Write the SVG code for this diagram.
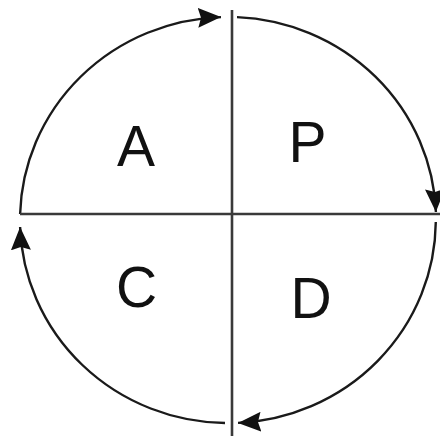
<svg xmlns="http://www.w3.org/2000/svg" width="440" height="436" viewBox="0 0 440 436">
<style>
.arc{fill:none;stroke:#1a1a1a;stroke-width:2.4}
.ax{stroke:#3a3a3a;stroke-width:2.6}
.lbl{font-family:"Liberation Sans",Arial,sans-serif;font-size:57px;fill:#111}
</style>
<defs>
<marker id="ah" markerUnits="userSpaceOnUse" markerWidth="24" markerHeight="20" refX="23" refY="10" orient="auto">
<path d="M0,0 L23,10 L0,20 L3,10 Z" fill="#111"/>
</marker>
</defs>
<rect width="440" height="436" fill="#fff"/>
<g id="connectors">
<path class="arc" d="M20.1,214 A208,203 0 0 1 221,17.1" marker-end="url(#ah)"/>
<path class="arc" d="M237,17.1 A208,203 0 0 1 435.9,212" marker-end="url(#ah)"/>
<path class="arc" d="M435.8,222 A208,203 0 0 1 238,422.9" marker-end="url(#ah)"/>
<path class="arc" d="M225,423 A208,203 0 0 1 20.1,227" marker-end="url(#ah)"/>
</g>
<g id="axes">
<line class="ax" x1="232" y1="10" x2="232" y2="436"/>
<line class="ax" x1="20" y1="214" x2="440" y2="214"/>
</g>
<g id="node-A"><text class="lbl" x="136" y="166" text-anchor="middle">A</text></g>
<g id="node-P"><text class="lbl" x="307.5" y="162" text-anchor="middle">P</text></g>
<g id="node-C"><text class="lbl" x="136.5" y="307" text-anchor="middle">C</text></g>
<g id="node-D"><text class="lbl" x="311" y="318" text-anchor="middle">D</text></g>
</svg>
